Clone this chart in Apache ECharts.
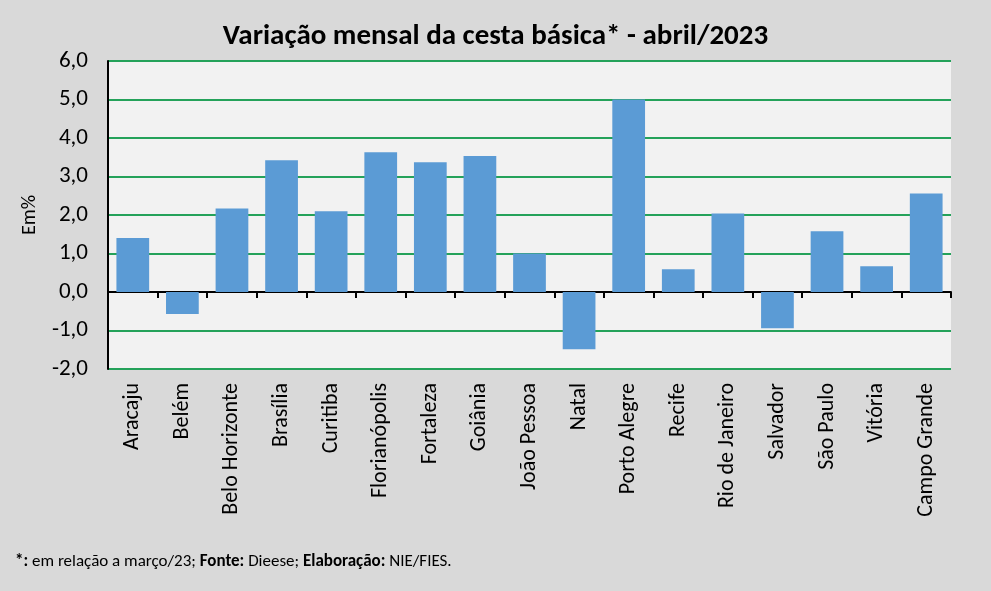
<!DOCTYPE html>
<html><head><meta charset="utf-8">
<script src="https://cdn.jsdelivr.net/npm/echarts@6/dist/echarts.min.js"></script>
<style>html,body{margin:0;padding:0;background:#d9d9d9;}#c{width:991px;height:591px;}</style>
</head><body><div id="c"></div>
<script>
const categories = ["Aracaju","Belém","Belo Horizonte","Brasília","Curitiba","Florianópolis","Fortaleza","Goiânia","João Pessoa","Natal","Porto Alegre","Recife","Rio de Janeiro","Salvador","São Paulo","Vitória","Campo Grande"];
const values = [1.40,-0.57,2.17,3.42,2.10,3.63,3.37,3.53,1.00,-1.49,5.00,0.59,2.04,-0.94,1.58,0.67,2.56];
const yTicks = {min:-2, max:6, interval:1};
const titleText = "Variação mensal da cesta básica* - abril/2023";
const yName = "Em%";

const FONT = "Carlito, Lato, sans-serif";
const chart = echarts.init(document.getElementById('c'));
chart.setOption({
  backgroundColor: '#d9d9d9',
  textStyle: {fontFamily: FONT},
  title: {
    text: titleText, left: 'center', top: 17,
    textStyle: {fontFamily: FONT, fontSize: 29, fontWeight: 'bold', color: '#000'}
  },
  graphic: [{
    type: 'text', left: 15, top: 553,
    style: {
      text: '{b|*:} em relação a março/23; {b|Fonte:} Dieese; {b|Elaboração:} NIE/FIES.',
      rich: {b: {fontWeight: 'bold', fontFamily: FONT, fontSize: 17, fill: '#000'}},
      fontFamily: FONT, fontSize: 17, fill: '#000'
    }
  }],
  grid: {left: 108, right: 40, top: 61, bottom: 222, backgroundColor: '#f2f2f2', show: true, borderWidth: 0},
  xAxis: [{
    type: 'category', data: categories, position: 'bottom',
    axisLine: {onZero: true, lineStyle: {color: '#000', width: 2}},
    axisTick: {show: true, interval: 0, length: 6, lineStyle: {color: '#000', width: 2}},
    axisLabel: {show: false, interval: 0}, splitLine: {show: false}
  },{
    type: 'category', data: categories, position: 'bottom',
    axisLine: {show: false, onZero: false}, axisTick: {show: false},
    axisLabel: {rotate: 90, margin: 14, fontSize: 22, color: '#000', fontFamily: FONT, interval: 0}
  }],
  yAxis: {
    type: 'value', min: yTicks.min, max: yTicks.max, interval: yTicks.interval,
    name: yName, nameLocation: 'middle', nameGap: 68, nameRotate: 90,
    nameTextStyle: {fontSize: 20, color: '#000', fontFamily: FONT},
    axisLine: {show: true, lineStyle: {color: '#000', width: 2}},
    axisTick: {show: false},
    axisLabel: {margin: 20, fontSize: 23, color: '#000', fontFamily: FONT,
      formatter: v => v.toFixed(1).replace('.', ',')},
    splitLine: {lineStyle: {color: '#24a25a', width: 2}}
  },
  series: [{
    type: 'bar', data: values, xAxisIndex: 0, barWidth: '66%',
    itemStyle: {color: '#5b9bd5'}, silent: true
  }],
  animation: false
});
</script></body></html>
